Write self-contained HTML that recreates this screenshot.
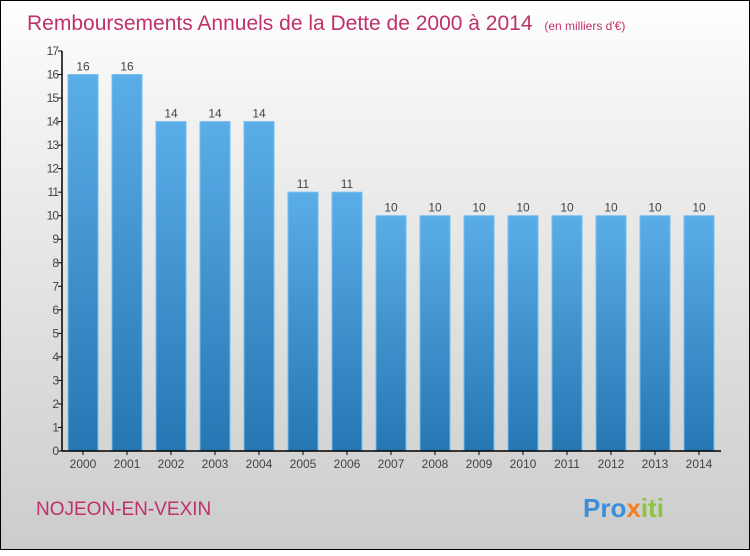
<!DOCTYPE html>
<html><head><meta charset="utf-8"><style>
body{margin:0;width:750px;height:550px;overflow:hidden;font-family:"Liberation Sans",sans-serif}
#c{position:absolute;left:0;top:0;width:748px;height:548px;border:1px solid #000;background:linear-gradient(#ffffff,#f2f2f2 20%,#cccccc)}
</style></head><body>
<div id="c">
<svg width="750" height="550">
<defs><linearGradient id="g" x1="0" y1="0" x2="0" y2="1"><stop offset="0" stop-color="#5aaee8"/><stop offset="1" stop-color="#2676b3"/></linearGradient></defs>
<text x="26" y="29" font-size="21" fill="#c0306a">Remboursements Annuels de la Dette de 2000 à 2014 <tspan font-size="12" dx="6">(en milliers d'€)</tspan></text>
<g id="bars"></g><g id="axes"></g>
<text x="35" y="514" font-size="19" fill="#c0306a">NOJEON-EN-VEXIN</text>
<text x="582" y="516" font-size="26" font-weight="bold" fill="#3a8fd8"><tspan fill="#3a8fd8">Pro</tspan><tspan fill="#f08020">x</tspan><tspan fill="#8cc63f">iti</tspan></text>
</svg></div>
<script>
const years=["2000","2001","2002","2003","2004","2005","2006","2007","2008","2009","2010","2011","2012","2013","2014"];
const values=[16,16,14,14,14,11,11,10,10,10,10,10,10,10,10];
const yTicks=[0,1,2,3,4,5,6,7,8,9,10,11,12,13,14,15,16,17];
const NS="http://www.w3.org/2000/svg";
const y=v=>450-v*400/17, x=i=>82+i*44;
function mk(t,a,p){const e=document.createElementNS(NS,t);for(const k in a)e.setAttribute(k,a[k]);p.appendChild(e);return e;}
const B=document.getElementById('bars'),A=document.getElementById('axes');
values.forEach((v,i)=>{
 const r=mk('rect',{x:x(i)-15,y:y(v),width:30,height:450-y(v),fill:'url(#g)',stroke:'#7bbcec','stroke-width':1},B);
 
 
 const t=mk('text',{x:x(i),y:y(v)-4,'text-anchor':'middle','font-size':12,fill:'#444'},B);t.textContent=v;
 
 
 const l=mk('text',{x:x(i),y:467,'text-anchor':'middle','font-size':12,fill:'#444'},A);l.textContent=years[i];
 
 
 mk('line',{x1:x(i),x2:x(i),y1:450,y2:454,stroke:'#000'},A);
});
const ya=mk('line',{x1:61,x2:61,y1:50,y2:450,stroke:'#000','stroke-width':1.5},A);


const xa=mk('line',{x1:61,x2:720,y1:450,y2:450,stroke:'#000','stroke-width':1.5},A);


yTicks.forEach(v=>{
 mk('line',{x1:57,x2:61,y1:y(v),y2:y(v),stroke:'#000'},A);
 const t=mk('text',{x:57,y:y(v)+4,'text-anchor':'end','font-size':12,fill:'#444','letter-spacing':'-1'},A);t.textContent=v;
 
 
});
</script>
</body></html>
